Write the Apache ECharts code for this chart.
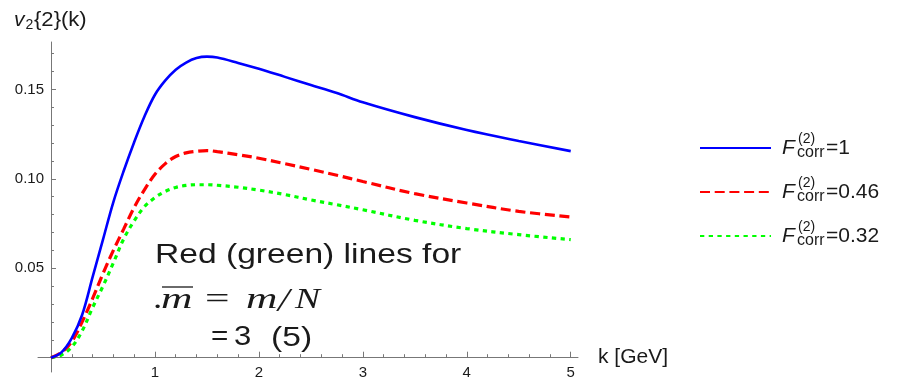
<!DOCTYPE html>
<html><head><meta charset="utf-8">
<script src="https://cdn.jsdelivr.net/npm/echarts@6/dist/echarts.min.js"></script>
<style>html,body{margin:0;padding:0;background:#fff}#c{width:907px;height:379px}</style>
</head><body><div id="c"></div>
<script>
// ---- data ----
const kValues = [0,0.1,0.2,0.3,0.4,0.5,0.6,0.7,0.8,0.9,1.0,1.1,1.2,1.3,1.4,1.5,1.6,1.8,2.0,2.25,2.5,2.75,3.0,3.5,4.0,4.5,5.0];
const v2Full  = [0,0.003,0.011,0.024,0.045,0.066,0.087,0.1045,0.1205,0.135,0.147,0.155,0.161,0.165,0.1675,0.1683,0.1678,0.1648,0.1615,0.157,0.1525,0.148,0.1428,0.1345,0.1273,0.1212,0.1155];
const v2Red   = [0,0.003,0.009,0.020,0.033,0.047,0.060,0.072,0.084,0.094,0.1025,0.1085,0.1125,0.1145,0.1154,0.1158,0.1152,0.1135,0.1115,0.1085,0.1053,0.1020,0.0985,0.0917,0.0865,0.0818,0.0787];
const v2Green = [0,0.0015,0.006,0.015,0.028,0.040,0.053,0.0665,0.0765,0.0845,0.0895,0.093,0.0952,0.0963,0.0967,0.0967,0.0964,0.0953,0.0937,0.0912,0.0882,0.0855,0.0827,0.0768,0.0722,0.0688,0.0660];
const seriesNames = ['Fcorr=1','Fcorr=0.46','Fcorr=0.32'];
const legendValues = ['=1','=0.46','=0.32'];
const xMajorTicks = [1,2,3,4,5];
const xMinorTicks = [0.2,0.4,0.6,0.8,1.2,1.4,1.6,1.8,2.2,2.4,2.6,2.8,3.2,3.4,3.6,3.8,4.2,4.4,4.6,4.8];
const yMajorTicks = [0.05,0.10,0.15];
const yMinorTicks = [0.01,0.02,0.03,0.04,0.06,0.07,0.08,0.09,0.11,0.12,0.13,0.14,0.16,0.17];

const toPairs = arr => kValues.map((k,i)=>[k,arr[i]]);
const SANS = '"Liberation Sans", Arial, sans-serif';
const SERIF = '"Liberation Serif", "Times New Roman", serif';
const axisColor = '#777';
const textColor = '#1a1a1a';

const chart = echarts.init(document.getElementById('c'), null, {renderer:'canvas'});

const colors = ['#0000ff','#ff0000','#00ff00'];
const lineStyles = [
  {width:2.6, type:'solid'},
  {width:3.2, type:[10,4.7]},
  {width:3.2, type:[4.3,4.4]}
];
const dataSets = [v2Full, v2Red, v2Green];
const legendY = [148,192,236];

// axis ranges (the axes extend slightly past the origin, as in the reference)
const X_MIN = -0.125, X_MAX = 5.07, Y_MIN = -0.008, Y_MAX = 0.1765;
const GRID = {left:38, right:329, top:42, bottom:7};
const plotW = 907 - GRID.left - GRID.right, plotH = 379 - GRID.top - GRID.bottom;
const xZeroOffset = -plotW * (-X_MIN) / (X_MAX - X_MIN);   // shift from grid edge to x=0
const yZeroOffset = -plotH * (-Y_MIN) / (Y_MAX - Y_MIN);   // shift from grid edge to y=0

const txt = (x,y,text,font,scaleX) => ({type:'text', x:x, y:y, scaleX:scaleX||1,
  style:{text:text, font:font, fill:textColor, verticalAlign:'middle'}});

const graphics = [];
// y axis title v2{2}(k)
graphics.push(txt(14,20,'v','italic 21px '+SANS));
graphics.push(txt(25.5,25,'2','14px '+SANS));
graphics.push(txt(34,20,'{2}(k)','21px '+SANS,1.05));
// legend labels
legendY.forEach((y,i)=>{
  graphics.push(txt(782,y,'F','italic 21px '+SANS));
  graphics.push(txt(798,y-9,'(2)','14px '+SANS));
  graphics.push(txt(797,y+5,'corr','16px '+SANS));
  graphics.push(txt(826,y,legendValues[i],'21px '+SANS));
});
// annotation
graphics.push(txt(155,255,'Red (green) lines for','28px '+SANS,1.2));
graphics.push(txt(154,300,'.','italic 30px '+SERIF,1.2));
graphics.push(txt(161,300,'m','italic 30px '+SERIF,1.45));
graphics.push({type:'line', shape:{x1:162, y1:287, x2:193, y2:287}, style:{stroke:textColor, lineWidth:1.3}});
graphics.push(txt(205,300,'=','30px '+SERIF,1.45));
graphics.push(txt(246,300,'m','italic 30px '+SERIF,1.45));
graphics.push(txt(278,302,'/','italic 34px '+SERIF,1.2));
graphics.push(txt(295,300,'N','italic 30px '+SERIF,1.25));
graphics.push(txt(211,338,'=','27px '+SANS,1.1));
graphics.push(txt(234,338,'3','27px '+SANS,1.15));
graphics.push(txt(271,338,'(5)','28px '+SANS,1.2));

const option = {
  animation:false,
  backgroundColor:'#fff',
  grid:Object.assign({containLabel:false, outerBoundsMode:'none'}, GRID),
  legend: seriesNames.map((n,i)=>({
    data:[n], orient:'vertical', left:699, top:legendY[i]-7, padding:0,
    itemWidth:71, itemHeight:14, formatter:()=>'', selectedMode:false,
    itemStyle:{opacity:0, borderWidth:0},
    textStyle:{fontSize:1}
  })),
  xAxis:[{
    type:'value', min:X_MIN, max:X_MAX,
    axisLine:{show:true, onZero:true, onZeroAxisIndex:0, lineStyle:{color:axisColor, width:1}},
    axisTick:{show:true, inside:true, length:6, customValues:xMajorTicks, lineStyle:{color:axisColor}},
    axisLabel:{show:false},
    splitLine:{show:false},
    name:'k [GeV]', nameLocation:'end', nameGap:20,
    nameTextStyle:{fontSize:21, fontFamily:SANS, color:textColor, verticalAlign:'middle', align:'left'}
  },{
    type:'value', min:X_MIN, max:X_MAX, position:'bottom', offset:yZeroOffset,
    axisLine:{show:false, onZero:false},
    axisTick:{show:true, inside:true, length:3.5, customValues:xMinorTicks, lineStyle:{color:axisColor}},
    axisLabel:{show:true, customValues:xMajorTicks, margin:8, color:textColor, fontSize:15, fontFamily:SANS},
    splitLine:{show:false}
  }],
  yAxis:[{
    type:'value', min:Y_MIN, max:Y_MAX,
    axisLine:{show:true, onZero:true, onZeroAxisIndex:0, lineStyle:{color:axisColor, width:1}},
    axisTick:{show:true, inside:true, length:5, customValues:yMajorTicks, lineStyle:{color:axisColor}},
    axisLabel:{show:false},
    splitLine:{show:false}
  },{
    type:'value', min:Y_MIN, max:Y_MAX, position:'left', offset:xZeroOffset,
    axisLine:{show:false, onZero:false},
    axisTick:{show:true, inside:true, length:3, customValues:yMinorTicks, lineStyle:{color:axisColor}},
    axisLabel:{show:true, customValues:yMajorTicks, margin:7, color:textColor, fontSize:15, fontFamily:SANS,
      formatter:v=>v.toFixed(2)},
    splitLine:{show:false}
  }],
  series: dataSets.map((d,i)=>({
    name:seriesNames[i], type:'line', xAxisIndex:0, yAxisIndex:0,
    data:toPairs(d), showSymbol:false, symbol:'none', smooth:0.35,
    lineStyle:{color:colors[i], width:lineStyles[i].width, type:lineStyles[i].type, cap:'butt'},
    itemStyle:{color:colors[i]}, z:3-i
  })),
  graphic:graphics
};
chart.setOption(option);
</script></body></html>
